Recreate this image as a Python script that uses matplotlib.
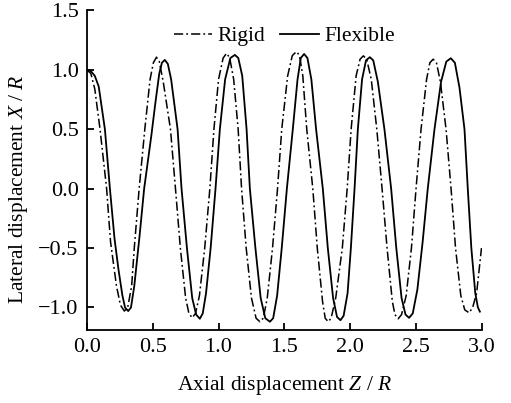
import matplotlib
matplotlib.use('Agg')
import matplotlib.pyplot as plt

plt.rcParams['font.family'] = 'Liberation Serif'
plt.rcParams['mathtext.fontset'] = 'custom'
plt.rcParams['mathtext.rm'] = 'Liberation Serif'
plt.rcParams['mathtext.it'] = 'Liberation Serif:italic'
plt.rcParams['font.size'] = 15

# Rigid model
rigid_z = [0.00, 0.03, 0.06, 0.10, 0.15, 0.18, 0.225, 0.255, 0.285, 0.31, 0.34, 0.36,
           0.397, 0.44, 0.48, 0.505, 0.529, 0.55, 0.58, 0.635, 0.673, 0.71, 0.75, 0.775,
           0.80, 0.825, 0.855, 0.895, 0.934, 0.965, 1.00, 1.035, 1.061, 1.085, 1.115, 1.149,
           1.175, 1.21, 1.25, 1.285, 1.314, 1.34, 1.37, 1.41, 1.448, 1.48, 1.525, 1.56,
           1.592, 1.615, 1.64, 1.67, 1.716, 1.75, 1.79, 1.81, 1.833, 1.855, 1.89, 1.94,
           1.977, 2.007, 2.045, 2.075, 2.10, 2.125, 2.16, 2.202, 2.242, 2.28, 2.32, 2.34,
           2.364, 2.39, 2.425, 2.465, 2.50, 2.538, 2.58, 2.605, 2.63, 2.655, 2.685, 2.728,
           2.766, 2.80, 2.84, 2.87, 2.903, 2.93, 2.96, 2.997]
rigid_x = [1.00, 0.97, 0.84, 0.50, 0.00, -0.45, -0.82, -0.98, -1.03, -1.00, -0.82, -0.50,
           0.00, 0.50, 0.92, 1.06, 1.107, 1.07, 0.90, 0.50, 0.00, -0.50, -0.92, -1.05,
           -1.087, -1.05, -0.90, -0.50, 0.00, 0.50, 0.92, 1.10, 1.14, 1.10, 0.92, 0.50,
           0.00, -0.50, -0.92, -1.09, -1.12, -1.09, -0.92, -0.50, 0.00, 0.50, 0.95, 1.12,
           1.154, 1.12, 0.95, 0.50, 0.00, -0.50, -0.95, -1.09, -1.12, -1.09, -0.92, -0.50,
           0.00, 0.50, 0.95, 1.09, 1.118, 1.09, 0.92, 0.50, 0.00, -0.50, -0.95, -1.06,
           -1.095, -1.06, -0.90, -0.50, 0.00, 0.50, 0.92, 1.06, 1.09, 1.06, 0.90, 0.50,
           0.00, -0.50, -0.90, -1.02, -1.045, -1.00, -0.88, -0.50]

# Flexible model
flex_z = [0.00, 0.03, 0.06, 0.09, 0.137, 0.175, 0.21, 0.24, 0.27, 0.29, 0.314, 0.335,
          0.36, 0.40, 0.435, 0.49, 0.52, 0.55, 0.57, 0.592, 0.615, 0.64, 0.689, 0.719,
          0.76, 0.80, 0.83, 0.858, 0.88, 0.905, 0.94, 0.977, 1.01, 1.05, 1.09, 1.124,
          1.15, 1.18, 1.213, 1.238, 1.28, 1.32, 1.355, 1.39, 1.415, 1.445, 1.48, 1.519,
          1.564, 1.60, 1.625, 1.65, 1.675, 1.705, 1.741, 1.792, 1.83, 1.87, 1.90, 1.926,
          1.95, 1.98, 2.005, 2.033, 2.058, 2.09, 2.12, 2.149, 2.175, 2.21, 2.26, 2.311,
          2.35, 2.39, 2.42, 2.447, 2.475, 2.51, 2.55, 2.589, 2.64, 2.69, 2.73, 2.764,
          2.795, 2.83, 2.868, 2.893, 2.92, 2.95, 2.97, 2.985]
flex_x = [1.00, 0.99, 0.95, 0.86, 0.50, 0.00, -0.42, -0.68, -0.90, -1.00, -1.03, -1.00,
          -0.82, -0.40, 0.00, 0.45, 0.72, 0.97, 1.06, 1.084, 1.05, 0.92, 0.50, 0.00,
          -0.50, -0.92, -1.06, -1.095, -1.05, -0.88, -0.50, 0.00, 0.50, 0.92, 1.10, 1.126,
          1.10, 0.95, 0.50, 0.00, -0.50, -0.92, -1.09, -1.12, -1.09, -0.90, -0.50, 0.00,
          0.50, 0.92, 1.10, 1.134, 1.10, 0.92, 0.50, 0.00, -0.50, -0.92, -1.08, -1.107,
          -1.07, -0.88, -0.50, 0.00, 0.50, 0.92, 1.08, 1.107, 1.08, 0.90, 0.50, 0.00,
          -0.50, -0.92, -1.06, -1.087, -1.05, -0.85, -0.45, 0.00, 0.50, 0.90, 1.07, 1.098,
          1.06, 0.85, 0.50, 0.00, -0.50, -0.88, -1.00, -1.035]

xticks = [0.0, 0.5, 1.0, 1.5, 2.0, 2.5, 3.0]
yticks = [-1.0, -0.5, 0.0, 0.5, 1.0, 1.5]

fig = plt.figure(figsize=(5.11, 4.03), dpi=100)
ax = fig.add_axes([0.170, 0.181, 0.773, 0.793])

ax.plot(rigid_z, rigid_x, color='black', lw=1.1, dashes=(6, 2, 1.2, 2), label='Rigid')
ax.plot(flex_z, flex_x, color='black', lw=1.3, label='Flexible')

ax.set_xlim(0, 3.0)
ax.set_ylim(-1.19, 1.5)
ax.set_xticks(xticks)
ax.set_yticks(yticks)
ax.set_xticklabels([f'{t:.1f}' for t in xticks])
ax.set_yticklabels([f'{t:.1f}'.replace('-', '\u2212') for t in yticks])
ax.spines['top'].set_visible(False)
ax.spines['right'].set_visible(False)
for s in ['left', 'bottom']:
    ax.spines[s].set_linewidth(1.3)
ax.tick_params(direction='in', length=5, width=1.3, labelsize=16, pad=6)

ax.set_xlabel(r'Axial displacement $\mathit{Z}$ / $\mathit{R}$', fontsize=15.5, labelpad=12)
ax.set_ylabel(r'Lateral displacement $\mathit{X}$ / $\mathit{R}$', fontsize=15.5)
ax.yaxis.set_label_coords(-0.143, 0.44)

ax.legend(loc='center', bbox_to_anchor=(0.5, 0.92), ncol=2, frameon=False,
          handlelength=1.8, handletextpad=0.25, columnspacing=0.7, fontsize=15.5)

fig.savefig('out.png', dpi=100)
